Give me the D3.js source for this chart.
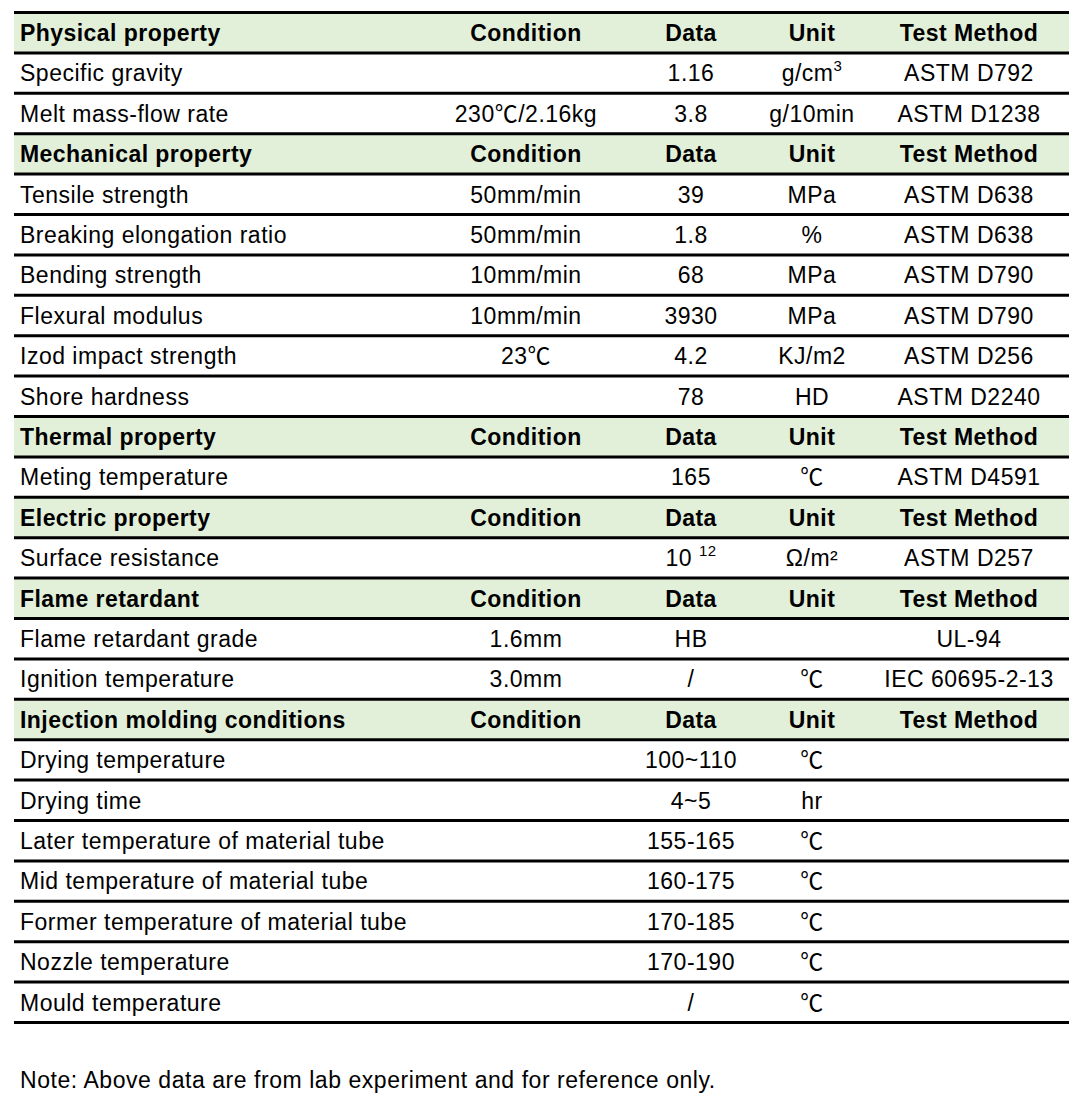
<!DOCTYPE html>
<html><head><meta charset="utf-8">
<script src="https://cdn.jsdelivr.net/npm/d3@7"></script>
<style>body{margin:0;background:#fff;} svg{display:block;}</style>
</head><body>
<script>
const columnHeaders = ["Condition", "Data", "Unit", "Test Method"];
const physicalRows = [
  ["Specific gravity", "", "1.16", "g/cm^3", "ASTM D792"],
  ["Melt mass-flow rate", "230℃/2.16kg", "3.8", "g/10min", "ASTM D1238"]
];
const mechanicalRows = [
  ["Tensile strength", "50mm/min", "39", "MPa", "ASTM D638"],
  ["Breaking elongation ratio", "50mm/min", "1.8", "%", "ASTM D638"],
  ["Bending strength", "10mm/min", "68", "MPa", "ASTM D790"],
  ["Flexural modulus", "10mm/min", "3930", "MPa", "ASTM D790"],
  ["Izod impact strength", "23℃", "4.2", "KJ/m2", "ASTM D256"],
  ["Shore hardness", "", "78", "HD", "ASTM D2240"]
];
const thermalRows = [
  ["Meting temperature", "", "165", "℃", "ASTM D4591"]
];
const electricRows = [
  ["Surface resistance", "", "10 ^12", "Ω/m²", "ASTM D257"]
];
const flameRows = [
  ["Flame retardant grade", "1.6mm", "HB", "", "UL-94"],
  ["Ignition temperature", "3.0mm", "/", "℃", "IEC 60695-2-13"]
];
const injectionRows = [
  ["Drying temperature", "", "100~110", "℃", ""],
  ["Drying time", "", "4~5", "hr", ""],
  ["Later temperature of material tube", "", "155-165", "℃", ""],
  ["Mid temperature of material tube", "", "160-175", "℃", ""],
  ["Former temperature of material tube", "", "170-185", "℃", ""],
  ["Nozzle temperature", "", "170-190", "℃", ""],
  ["Mould temperature", "", "/", "℃", ""]
];
const sectionTitles = ["Physical property", "Mechanical property", "Thermal property",
  "Electric property", "Flame retardant", "Injection molding conditions"];
const sectionRows = [physicalRows, mechanicalRows, thermalRows, electricRows, flameRows, injectionRows];
const noteText = "Note: Above data are from lab experiment and for reference only.";

const rows = [];
sectionTitles.forEach((t, i) => {
  rows.push({header: true, cells: [t, ...columnHeaders]});
  sectionRows[i].forEach(r => rows.push({header: false, cells: r}));
});

const W = 1091, H = 1114;
const svg = d3.select("body").append("svg").attr("width", W).attr("height", H);
const font = "'Liberation Sans', Arial, 'Noto Sans CJK SC', sans-serif";
const fs = 23;

const y = d3.scaleLinear().domain([0, rows.length]).range([12.5, 1022.5]);
const xLeft = 14, xRight = 1069;
const colX = d3.scaleOrdinal().domain([1, 2, 3, 4]).range([526, 691, 812, 969]);

// header fills
svg.selectAll("rect.hdr").data(rows.map((r, i) => ({r, i})).filter(d => d.r.header))
  .enter().append("rect")
  .attr("x", xLeft).attr("width", xRight - xLeft)
  .attr("y", d => y(d.i)).attr("height", d => y(d.i + 1) - y(d.i))
  .attr("fill", "#e2efd9");

// lines
svg.selectAll("line.rule").data(d3.range(rows.length + 1)).enter().append("line")
  .attr("x1", xLeft).attr("x2", xRight)
  .attr("y1", d => y(d)).attr("y2", d => y(d))
  .attr("stroke", "#000").attr("stroke-width", 3);

function addText(g, str) {
  const parts = str.split("^");
  g.append("tspan").text(parts[0]);
  if (parts.length > 1) {
    g.append("tspan").attr("dy", -10).attr("font-size", 15).text(parts[1]);
  }
}

rows.forEach((r, i) => {
  const cy = (y(i) + y(i + 1)) / 2 + 8.3;
  r.cells.forEach((c, j) => {
    if (!c) return;
    const t = svg.append("text")
      .attr("x", j === 0 ? 20 : colX(j))
      .attr("y", cy)
      .attr("text-anchor", j === 0 ? "start" : "middle")
      .attr("font-family", font)
      .attr("font-size", fs)
      .attr("letter-spacing", r.header ? 0.45 : 0.5)
      .attr("font-weight", r.header ? "bold" : "normal")
      .attr("fill", "#000");
    addText(t, c);
  });
});

svg.append("text").attr("x", 20).attr("y", 1087.5)
  .attr("font-family", font).attr("font-size", fs).attr("letter-spacing", 0.55).attr("fill", "#000")
  .text(noteText);
</script>
</body></html>
